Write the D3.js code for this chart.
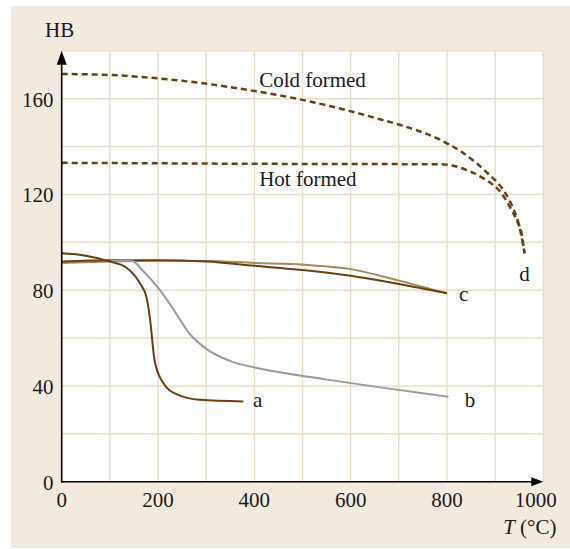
<!DOCTYPE html>
<html>
<head>
<meta charset="utf-8">
<script src="https://cdn.jsdelivr.net/npm/d3@7"></script>
<style>
  body { margin: 0; background: #fff; }
  text { font-family: "Liberation Serif", "Times New Roman", serif; fill: #1a1a1a; }
</style>
</head>
<body>
<script>
// valori: temperatura (°C) e durezza HB
var tempA = [0, 50, 100, 134, 162, 176, 183, 193, 210, 238, 287, 377];
var hbA = [95.4, 94.4, 92, 89.5, 83, 77, 68.6, 50.5, 41.5, 36.6, 34.2, 33.5];

var tempB = [100, 145, 169, 204, 231, 266, 301, 349, 405, 474, 543, 661, 803];
var hbB = [92.3, 92.3, 88, 80, 72.3, 61.7, 55.4, 50.5, 47.5, 45, 42.9, 39.4, 35.5];

var tempC = [0, 100, 200, 300, 400, 500, 600, 700, 800];
var hbC1 = [92, 92.5, 92.5, 92, 90.2, 88.4, 86, 82.6, 78.7];
var hbC2 = [91.3, 92, 92.3, 92.2, 91.4, 90.7, 88.8, 84, 78.7];

var tempCold = [0, 100, 204, 287, 370, 502, 599, 661, 703, 786, 830, 858, 889, 907, 920, 931, 941, 951, 958, 961];
var hbCold = [170.3, 169.9, 168.4, 166.6, 164.2, 159.4, 154.8, 151.4, 149, 142.8, 137.8, 133.6, 128, 124.5, 121, 117, 112.5, 106, 99, 95.4];

var tempHot = [0, 200, 400, 600, 786, 817, 848, 875, 896, 914, 927, 945, 955, 961];
var hbHot = [133.2, 133, 132.8, 132.7, 132.6, 131.8, 129.6, 126.8, 123.9, 120.3, 116, 109, 103.5, 95.4];

var xTicks = [0, 200, 400, 600, 800, 1000];
var yTicks = [0, 40, 80, 120, 160];

// etichette delle curve (posizione in coordinate dati)
var labelText = ["a", "b", "c", "d", "Cold formed", "Hot formed"];
var labelT = [397, 837, 825, 950, 410, 410];
var labelHB = [31.3, 31.3, 75.6, 84, 165, 123.5];

var W = 570, H = 549;
var svg = d3.select("body").append("svg").attr("width", W).attr("height", H);

// sfondo beige
svg.append("rect").attr("x", 11).attr("y", 6).attr("width", W - 11).attr("height", 542).attr("fill", "#f2eadf");

var x = d3.scaleLinear().domain([0, 1000]).range([61.7, 543.3]);
var y = d3.scaleLinear().domain([0, 180]).range([481.7, 50.8]);

// area bianca
svg.append("rect").attr("x", x(0)).attr("y", y(180))
  .attr("width", x(1000) - x(0)).attr("height", y(0) - y(180)).attr("fill", "#fff");

// griglia
var grid = svg.append("g").attr("stroke", "#eadcc8").attr("stroke-width", 1.4);
d3.range(100, 1001, 100).forEach(function (t) {
  grid.append("line").attr("x1", x(t)).attr("x2", x(t)).attr("y1", y(0)).attr("y2", y(180));
});
d3.range(20, 181, 20).forEach(function (v) {
  grid.append("line").attr("x1", x(0)).attr("x2", x(1000)).attr("y1", y(v)).attr("y2", y(v));
});

// curve
function draw(ts, vs, color, dash, width) {
  var line = d3.line().x(function (d) { return x(d[0]); }).y(function (d) { return y(d[1]); })
    .curve(d3.curveMonotoneX);
  svg.append("path").datum(d3.zip(ts, vs)).attr("d", line)
    .attr("fill", "none").attr("stroke", color).attr("stroke-width", width)
    .attr("stroke-dasharray", dash);
}
draw(tempCold, hbCold, "#6b3f10", "6,4", 2.5);
draw(tempHot, hbHot, "#6b3f10", "6,4", 2.5);
draw(tempC, hbC2, "#a8865e", null, 2);
draw(tempC, hbC1, "#6b3f10", null, 2);
draw(tempB, hbB, "#9b9b9b", null, 2);
draw(tempA, hbA, "#6b3f10", null, 2);

// assi con frecce
svg.append("line").attr("x1", x(0)).attr("x2", x(0)).attr("y1", y(0) + 0.8).attr("y2", y(180) + 10)
  .attr("stroke", "#000").attr("stroke-width", 1.6);
svg.append("line").attr("x1", x(0) - 0.8).attr("x2", x(1000) - 10).attr("y1", y(0)).attr("y2", y(0))
  .attr("stroke", "#000").attr("stroke-width", 1.6);
svg.append("path").attr("fill", "#000")
  .attr("d", "M" + x(0) + "," + y(180) + " l-5,14 l10,0 z");
svg.append("path").attr("fill", "#000")
  .attr("d", "M" + x(1000) + "," + y(0) + " l-12,-4.5 l0,9 z");

// tick labels
svg.selectAll(".xt").data(xTicks).enter().append("text")
  .attr("x", function (d) { return d === 1000 ? x(d) + 13.5 : x(d); })
  .attr("y", 507)
  .attr("text-anchor", function (d) { return d === 1000 ? "end" : "middle"; })
  .attr("font-size", 21).text(function (d) { return d; });
svg.selectAll(".yt").data(yTicks).enter().append("text")
  .attr("x", 53.5).attr("y", function (d) { return y(d) + 8; })
  .attr("text-anchor", "end").attr("font-size", 21).text(function (d) { return d; });

// titoli assi
svg.append("text").attr("x", 45).attr("y", 37).attr("font-size", 21).text("HB");
var tl = svg.append("text").attr("x", 556.5).attr("y", 534).attr("text-anchor", "end").attr("font-size", 21);
tl.append("tspan").attr("font-style", "italic").text("T");
tl.append("tspan").text(" (°C)");

// etichette curve
labelText.forEach(function (s, i) {
  svg.append("text").attr("x", x(labelT[i])).attr("y", y(labelHB[i]))
    .attr("font-size", 21).text(s);
});
</script>
</body>
</html>
